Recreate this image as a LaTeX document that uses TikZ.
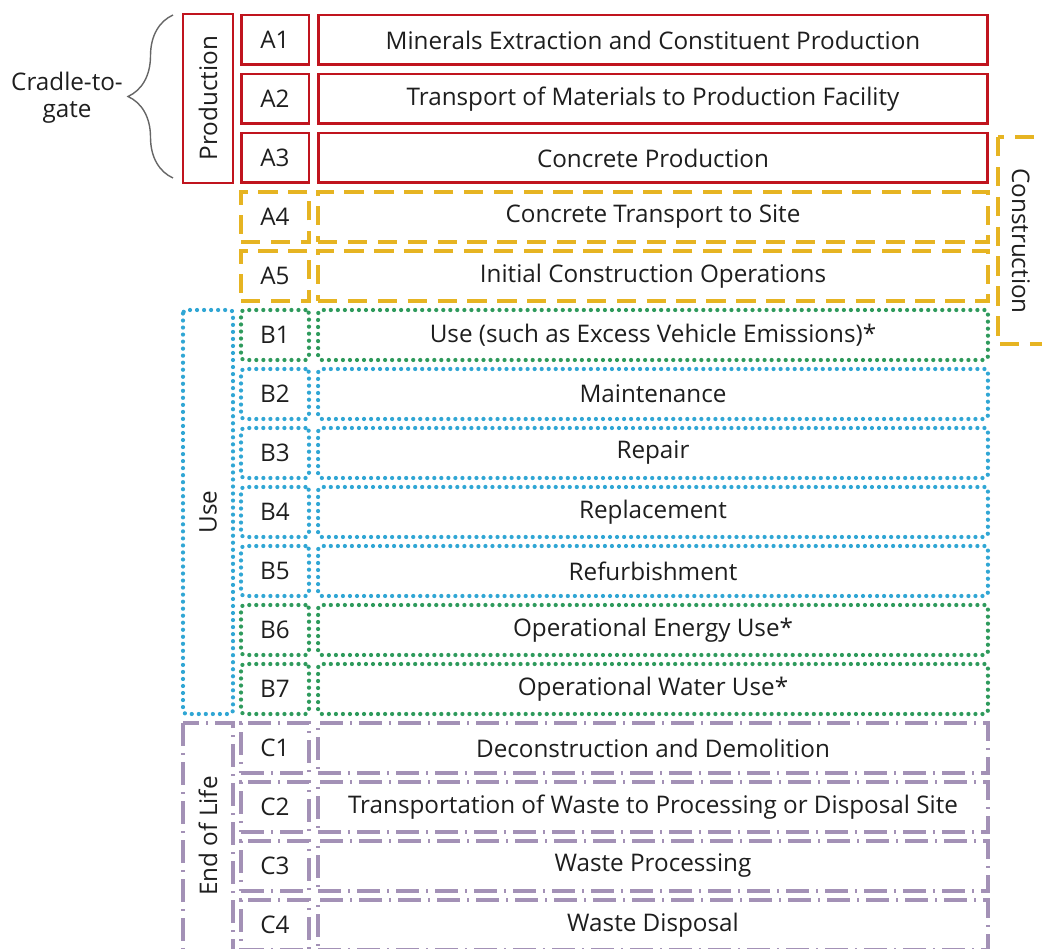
\documentclass[tikz,border=0pt]{standalone}
\usepackage{fontspec}
\setmainfont{Open Sans}
\usepackage{tikz}
\usetikzlibrary{decorations.pathreplacing}
\definecolor{prodred}{HTML}{C0141E}
\definecolor{consyel}{HTML}{E6B422}
\definecolor{useblu}{HTML}{30A6D4}
\definecolor{usegrn}{HTML}{2E9A5C}
\definecolor{eolpur}{HTML}{A391B6}
\definecolor{ink}{HTML}{1E1E1E}

\begin{document}
\begin{tikzpicture}[x=0.02cm,y=-0.02cm,
  every node/.style={font=\fontsize{13.8}{15.5}\selectfont,text=ink},
  cell/.style={draw,minimum height=1cm,inner sep=0pt},
  codecell/.style={cell,minimum width=1.36cm},
  txtcell/.style={cell,minimum width=13.4cm},
  redline/.style={draw=prodred,line width=1.7pt},
  yelline/.style={draw=consyel,line width=1.8pt,dash pattern=on 11pt off 6pt},
  bluline/.style={draw=useblu,line width=2.4pt,line cap=round,dash pattern=on 0pt off 4pt,rounded corners=2pt},
  grnline/.style={draw=usegrn,line width=2.4pt,line cap=round,dash pattern=on 0pt off 4pt,rounded corners=2pt},
  purline/.style={draw=eolpur,line width=1.9pt,dash pattern=on 13pt off 4pt on 1.2pt off 4pt}]
\clip (0,0) rectangle (1042,949);
% ---------- module rows ----------
\foreach \i/\code/\kind/\txt in {
  0/A1/redline/Minerals Extraction and Constituent Production,
  1/A2/redline/Transport of Materials to Production Facility,
  2/A3/redline/Concrete Production,
  3/A4/yelline/Concrete Transport to Site,
  4/A5/yelline/Initial Construction Operations,
  5/B1/grnline/Use (such as Excess Vehicle Emissions)*,
  6/B2/bluline/Maintenance,
  7/B3/bluline/Repair,
  8/B4/bluline/Replacement,
  9/B5/bluline/Refurbishment,
  10/B6/grnline/Operational Energy Use*,
  11/B7/grnline/Operational Water Use*,
  12/C1/purline/Deconstruction and Demolition,
  13/C2/purline/Transportation of Waste to Processing or Disposal Site,
  14/C3/purline/Waste Processing,
  15/C4/purline/Waste Disposal} {
  \pgfmathsetmacro{\yy}{40+59*\i}
  \node[codecell,\kind] (\code) at (275,\yy) {\code};
  \node[txtcell,\kind] (\code-txt) at (653,\yy) {\txt};
}
% ---------- stage boxes ----------
\draw[redline] (183,14) rectangle (233,183);
\node[rotate=90] (production) at (208,98) {Production};
\draw[yelline] (998,137) rectangle (1048,344);
\node[rotate=-90] (construction) at (1021,241) {Construction};
\draw[bluline] (183,310) rectangle (233,714);
\node[rotate=90] (use) at (208,512) {Use};
\draw[purline] (183,723) rectangle (233,954);
\node[rotate=90] (endoflife) at (208,836) {End of Life};
% ---------- cradle-to-gate brace ----------
\draw[gray!80!black,line width=0.8pt,decorate,decoration={brace,amplitude=0.9cm}] (173,178) -- (173,15);
\node[align=center] (cradle) at (67,98) {Cradle-to-\\gate};
\end{tikzpicture}
\end{document}
